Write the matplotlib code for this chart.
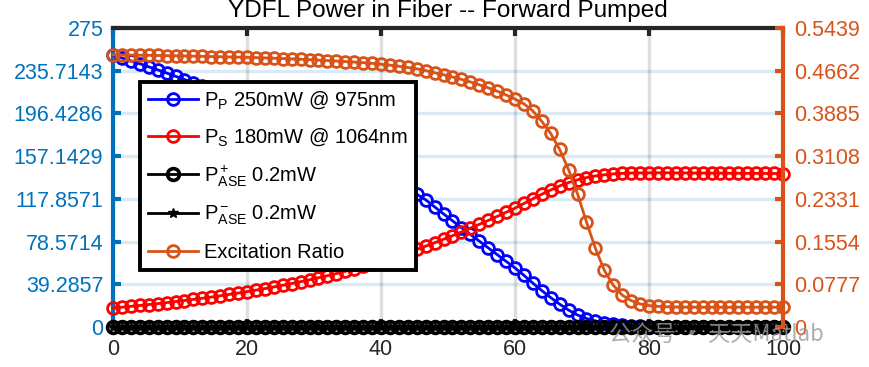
#!/usr/bin/env python3
"""YDFL power along the fiber, forward pumped (left: power, right: excitation ratio)."""

import numpy as np
import matplotlib
matplotlib.use("Agg")
import matplotlib.pyplot as plt

plt.rcParams["font.family"] = ["Liberation Sans", "DejaVu Sans"]
plt.rcParams["mathtext.fontset"] = "custom"
plt.rcParams["mathtext.rm"] = "Liberation Sans"
plt.rcParams["mathtext.it"] = "Liberation Sans:italic"

BLUE_AX = "#0072BD"
ORANGE = "#D95319"
DARK = "#262626"

# ── Data ───────────────────────────────────────────────────────────────────────
fiber_pos = np.linspace(0, 100, 76)

pump = [250.0, 247.4, 244.8, 242.1, 239.3, 236.5, 233.6, 230.6, 227.6, 224.5,
        221.4, 218.7, 215.6, 212.5, 209.2, 205.9, 202.4, 198.8, 195.2, 191.4,
        187.5, 183.5, 179.4, 175.2, 170.9, 166.5, 162.0, 157.4, 152.7, 147.9,
        142.9, 137.9, 132.7, 127.5, 122.1, 117.0, 110.5, 104.0, 97.7, 91.4,
        85.2, 79.0, 72.8, 66.6, 60.4, 54.3, 47.5, 40.3, 33.5, 27.0,
        21.0, 15.5, 11.0, 7.8, 5.5, 3.8, 2.6, 1.7, 1.1, 0.7,
        0.45, 0.3, 0.2, 0.13, 0.09, 0.06, 0.04, 0.03, 0.02, 0.01,
        0.01, 0.01, 0.0, 0.0, 0.0, 0.0]

signal = [17.50, 18.24, 19.01, 19.81, 20.64, 21.51, 22.42, 23.37, 24.35, 25.38,
          26.45, 27.57, 28.73, 29.94, 31.21, 32.52, 33.90, 35.33, 36.82, 38.37,
          39.99, 41.68, 43.43, 45.27, 47.18, 49.17, 51.24, 53.40, 55.66, 58.00,
          60.45, 63.00, 65.66, 68.43, 71.32, 74.33, 77.46, 80.73, 84.0, 87.4,
          90.9, 94.4, 98.0, 101.7, 105.5, 109.3, 113.6, 117.9, 122.1, 126.0,
          129.8, 132.9, 135.4, 137.4, 138.9, 140.0, 140.8, 141.3, 141.6, 141.7,
          141.8, 141.8, 141.8, 141.7, 141.7, 141.6, 141.6, 141.5, 141.5, 141.4,
          141.4, 141.3, 141.3, 141.2, 141.2, 141.1]

ase_fwd = [0.2] * 76
ase_bwd = [0.2] * 76

excitation = [0.4950, 0.4948, 0.4946, 0.4944, 0.4942, 0.4939, 0.4936, 0.4933, 0.4930, 0.4927,
              0.4924, 0.4920, 0.4917, 0.4913, 0.4909, 0.4905, 0.4900, 0.4895, 0.4889, 0.4883,
              0.4877, 0.4870, 0.4863, 0.4855, 0.4847, 0.4838, 0.4829, 0.4819, 0.4808, 0.4796,
              0.4780, 0.4763, 0.4743, 0.4721, 0.4697, 0.4665, 0.4625, 0.4588, 0.4548, 0.4505,
              0.4458, 0.4407, 0.4351, 0.4290, 0.4222, 0.4146, 0.4060, 0.3930, 0.3740, 0.3520,
              0.3230, 0.2860, 0.2420, 0.1910, 0.1430, 0.1030, 0.0760, 0.0580, 0.0480, 0.0420,
              0.0390, 0.0375, 0.0368, 0.0364, 0.0362, 0.0361, 0.0360, 0.0360, 0.0360, 0.0360,
              0.0360, 0.0360, 0.0360, 0.0360, 0.0360, 0.0360]

series_labels = [r"$\mathrm{P_P}$ 250mW @ 975nm",
                 r"$\mathrm{P_S}$ 180mW @ 1064nm",
                 r"$\mathrm{P^+_{ASE}}$ 0.2mW",
                 r"$\mathrm{P^-_{ASE}}$ 0.2mW",
                 "Excitation Ratio"]

x_ticks = [0, 20, 40, 60, 80, 100]
left_max = 275
left_labels = ["0", "39.2857", "78.5714", "117.8571", "157.1429",
               "196.4286", "235.7143", "275"]
right_max = 0.5439
right_labels = ["0", "0.0777", "0.1554", "0.2331", "0.3108",
                "0.3885", "0.4662", "0.5439"]

# ── Figure ─────────────────────────────────────────────────────────────────────
fig = plt.figure(figsize=(8.7, 3.67), dpi=100)
ax = fig.add_axes([0.1299, 0.109, 0.7701, 0.8147])
ax2 = ax.twinx()

line_kw = dict(lw=2.0, ms=8.5, mew=2.0, mfc="none", clip_on=False, zorder=3)
h1, = ax.plot(fiber_pos, pump, "-o", color="#0000FF", **line_kw)
h2, = ax.plot(fiber_pos, signal, "-o", color="#FF0000", **line_kw)
h3, = ax.plot(fiber_pos, ase_fwd, "-o", color="black", lw=2.0, ms=8.5,
              mew=2.6, mfc="none", clip_on=False, zorder=3)
h4, = ax.plot(fiber_pos, ase_bwd, "-*", color="black", lw=2.0, ms=7,
              clip_on=False, zorder=3)
h5, = ax2.plot(fiber_pos, excitation, "-o", color=ORANGE, **line_kw)

ax.set_xlim(0, 100)
ax.set_xticks(x_ticks)
ax.set_ylim(0, left_max)
ax.set_yticks(np.linspace(0, left_max, len(left_labels)))
ax.set_yticklabels(left_labels)
ax2.set_ylim(0, right_max)
ax2.set_yticks(np.linspace(0, right_max, len(right_labels)))
ax2.set_yticklabels(right_labels)

ax.set_axisbelow(True)
ax.grid(axis="x", color=DARK, alpha=0.15, lw=2.4)
ax.grid(axis="y", color=BLUE_AX, alpha=0.15, lw=2.4)

for name, sp in ax.spines.items():
    sp.set_linewidth(3)
    sp.set_color(DARK)
    sp.set_zorder(2.5)
ax.spines["left"].set_color(BLUE_AX)
ax.spines["right"].set_visible(False)
for name, sp in ax2.spines.items():
    sp.set_visible(name == "right")
ax2.spines["right"].set_color(ORANGE)
ax2.spines["right"].set_linewidth(3)

ax.tick_params(axis="x", direction="in", top=True, length=6, width=3,
               color=DARK, labelcolor=DARK, labelsize=15.5, pad=9)
ax.tick_params(axis="y", direction="in", length=6, width=3,
               colors=BLUE_AX, labelsize=15.5, pad=7)
ax2.tick_params(axis="y", direction="in", length=6, width=3,
                colors=ORANGE, labelsize=15.5, pad=8)

ax.set_title("YDFL Power in Fiber -- Forward Pumped", fontsize=17.5, pad=8,
             color="black")

leg = ax2.legend([h1, h2, h3, h4, h5], series_labels, loc="upper left",
                 bbox_to_anchor=(0.04, 0.82), borderaxespad=0, fancybox=False,
                 edgecolor="black", framealpha=1, fontsize=14.5,
                 handlelength=2.5, labelspacing=0.75, borderpad=0.4,
                 handletextpad=0.3)
leg.get_frame().set_linewidth(2.8)

fig.text(0.70, 0.088, "公众号 · 天天Matlab", fontsize=16, color="#9a9a9a",
         alpha=0.8, va="center", family=["Noto Sans CJK SC", "DejaVu Sans"])

plt.savefig("out.png", dpi=100)
plt.close()
